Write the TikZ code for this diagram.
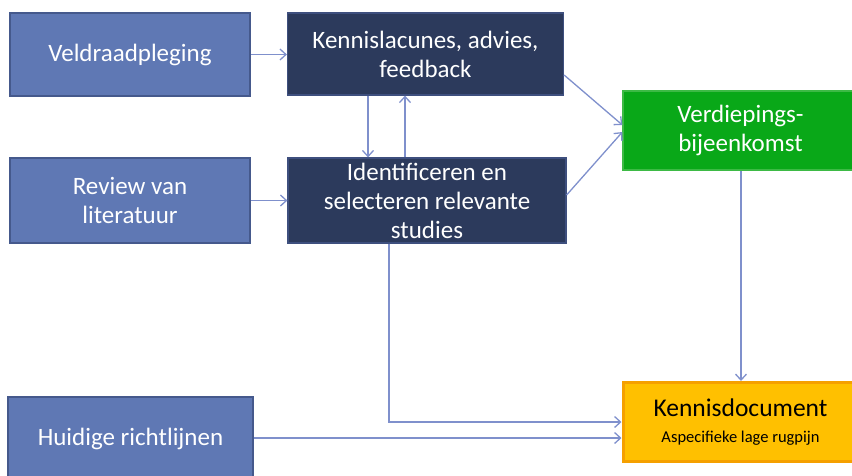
\documentclass[tikz,border=0pt]{standalone}
\usepackage{fontspec}
\setmainfont{Carlito}
\usetikzlibrary{arrows.meta}
\definecolor{bluefill}{HTML}{5F78B4}
\definecolor{blueline}{HTML}{45598C}
\definecolor{navyfill}{HTML}{2C3A5C}
\definecolor{navyline}{HTML}{3E4F7E}
\definecolor{greenfill}{HTML}{09A818}
\definecolor{greenline}{HTML}{3DBA45}
\definecolor{orangefill}{HTML}{FFC000}
\definecolor{orangeline}{HTML}{F5A000}
\definecolor{conn}{HTML}{7F90CC}
\tikzset{
  box/.style={rectangle, minimum width=#1, text=white, align=center,
    font=\fontsize{25}{29}\selectfont, inner sep=0pt},
  bluebox/.style={box=240pt, fill=bluefill, draw=blueline, line width=2pt},
  navybox/.style={box=276pt, fill=navyfill, draw=navyline, line width=1.2pt},
  greenbox/.style={box=235pt, fill=greenfill, draw=greenline, line width=1.2pt},
  orangebox/.style={box=235pt, fill=orangefill, draw=orangeline, line width=3pt, text=black},
  arr/.style={draw=conn, line width=1.3pt, -{Straight Barb[length=6pt,width=11pt,line width=1.3pt]}}
}
\begin{document}
\begin{tikzpicture}[x=1pt,y=-1pt]
\useasboundingbox (0,0) rectangle (852,475);
\node[bluebox, minimum height=83pt] (veld) at (130,54.5) {Veldraadpleging};
\node[bluebox, minimum height=85pt] (review) at (130,200.5) {Review van\\literatuur};
\node[bluebox, minimum width=245pt, minimum height=83pt] (huid) at (130.5,438.5) {Huidige richtlijnen};
\node[navybox, minimum height=82pt] (kenn) at (425.5,54) {Kennislacunes, advies,\\feedback};
\node[navybox, minimum width=278pt, minimum height=85pt] (ident) at (427,200.5) {Identificeren en\\selecteren relevante\\studies};
\node[greenbox, minimum height=79pt] (verd) at (740.5,130.5) {Verdiepings-\\bijeenkomst};
\node[orangebox, minimum height=79pt] (doc) at (740.5,422) {\fontsize{25.5}{25}\selectfont Kennisdocument\\[-3pt]\fontsize{16.5}{19}\selectfont Aspecifieke lage rugpijn};
\coordinate (bend) at (389,422);
\draw[arr] (veld.east) -- (kenn.west |- veld.east);
\draw[arr] (review.east) -- (ident.west |- review.east);
\draw[arr] ([xshift=-57.5pt]kenn.south) -- ([xshift=-57.5pt]kenn.south |- ident.north);
\draw[arr] ([xshift=-20.5pt]kenn.south |- ident.north) -- ([xshift=-20.5pt]kenn.south);
\draw[arr] ([yshift=-21pt]kenn.east) -- ([yshift=5.5pt]verd.west);
\draw[arr] ([yshift=5.5pt]ident.east) -- ([yshift=-1.5pt]verd.west);
\draw[arr] ([xshift=0.5pt]verd.south) -- ([xshift=0.5pt]doc.north);
\draw[arr] (bend |- ident.south) -- (bend) -- (doc.west |- bend);
\draw[arr] (huid.east |- 0,438) -- (doc.west |- 0,438);
\end{tikzpicture}
\end{document}
